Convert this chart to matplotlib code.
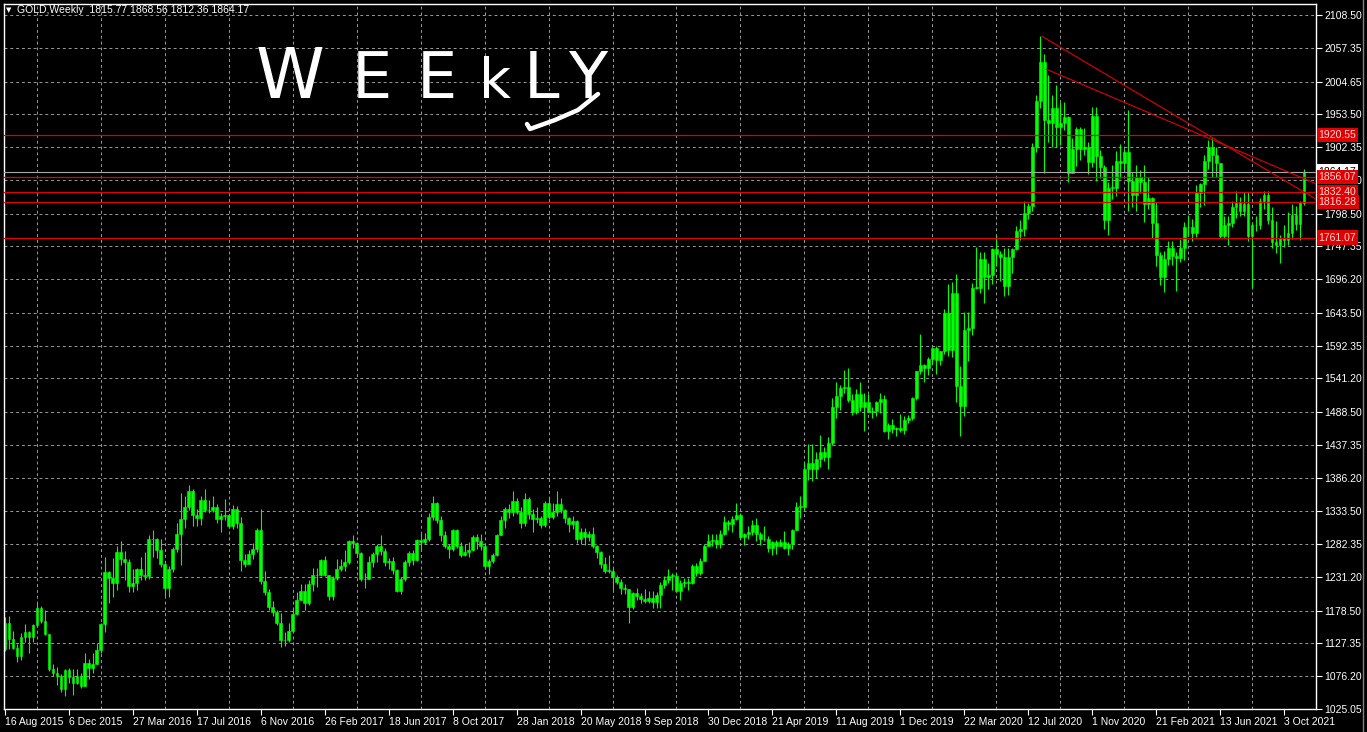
import matplotlib.pyplot as plt
import matplotlib.transforms as mtransforms
from matplotlib.lines import Line2D

plt.rcParams['font.family'] = ['Liberation Sans', 'DejaVu Sans']

# weekly bars: first is the week of 16 Aug 2015, last is the week of 7 Nov 2021
opens = [
    1118, 1160, 1134, 1121, 1108, 1137, 1145, 1137, 1156, 1182, 1163, 1142, 1088, 1081, 1077, 1056, 1086, 1075, 1066, 1076,
    1061, 1097, 1089, 1096, 1117, 1158, 1239, 1230, 1221, 1270, 1259, 1255, 1217, 1221, 1243, 1235, 1233, 1291, 1290, 1273,
    1252, 1214, 1243, 1275, 1298, 1322, 1340, 1366, 1328, 1323, 1351, 1335, 1335, 1341, 1321, 1327, 1328, 1310, 1338, 1316,
    1257, 1252, 1267, 1275, 1304, 1225, 1208, 1184, 1177, 1160, 1133, 1132,
    1147, 1173, 1196, 1210, 1190, 1220, 1234, 1235, 1257, 1234, 1202, 1229, 1244, 1249, 1254, 1288, 1284, 1268, 1228, 1228,
    1254, 1267, 1280, 1271, 1254, 1256, 1242, 1209, 1228, 1255, 1269, 1257, 1289, 1285, 1291, 1325, 1346, 1320, 1297, 1280,
    1275, 1304, 1280, 1266, 1270, 1274, 1294, 1287, 1280, 1248, 1256, 1265, 1297,
    1320, 1338, 1332, 1350, 1333, 1315, 1353, 1330, 1322, 1323, 1313, 1347, 1325, 1332, 1345, 1336, 1323, 1314, 1318, 1291,
    1301, 1294, 1298, 1279, 1270, 1252, 1241, 1241, 1231, 1223, 1214, 1212, 1184, 1206, 1201, 1197, 1194, 1199, 1192, 1203,
    1218, 1227, 1233, 1233, 1209, 1222, 1222, 1222, 1248, 1238, 1256, 1279,
    1287, 1289, 1282, 1298, 1317, 1314, 1322, 1328, 1294, 1298, 1302, 1313, 1298, 1291, 1290, 1276, 1286, 1280, 1285, 1277,
    1283, 1305, 1341, 1341, 1400, 1409, 1399, 1415, 1426, 1419, 1440, 1497, 1513, 1526, 1528, 1507, 1488, 1517, 1497, 1505,
    1489, 1490, 1505, 1509, 1459, 1468, 1462, 1464, 1460, 1476, 1479, 1510,
    1552, 1562, 1557, 1571, 1589, 1570, 1584, 1643, 1585, 1674, 1530, 1498, 1617, 1620, 1683, 1683, 1728, 1700, 1702, 1743,
    1735, 1730, 1685, 1730, 1743, 1771, 1775, 1799, 1810, 1902, 1975, 2035, 1944, 1940, 1964, 1933, 1940, 1950, 1862, 1900,
    1930, 1899, 1902, 1879, 1951, 1889, 1872, 1788, 1839, 1839, 1881, 1877,
    1895, 1850, 1828, 1856, 1848, 1814, 1823, 1784, 1734, 1700, 1727, 1745, 1733, 1729, 1744, 1777, 1777, 1768, 1831, 1844,
    1881, 1903, 1890, 1877, 1764, 1781, 1784, 1808, 1815, 1802, 1814, 1763, 1780, 1781, 1818, 1827, 1788, 1754, 1750, 1761,
    1757, 1768, 1796, 1783, 1815.77,
]
highs = [
    1168, 1170, 1147, 1126, 1143, 1157, 1147, 1158, 1191, 1186, 1180, 1142, 1096, 1090, 1080, 1088, 1089, 1088, 1088, 1082,
    1112, 1103, 1112, 1128, 1160, 1263, 1240, 1261, 1279, 1287, 1272, 1259, 1244, 1245, 1263, 1270, 1297, 1304, 1292, 1290,
    1253, 1248, 1278, 1315, 1362, 1358, 1375, 1369, 1337, 1357, 1368, 1352, 1358, 1345, 1331, 1353, 1330, 1344, 1342, 1325,
    1267, 1273, 1284, 1308, 1338, 1240, 1213, 1194, 1180, 1175, 1145, 1160,
    1182, 1207, 1220, 1220, 1226, 1245, 1245, 1259, 1264, 1235, 1233, 1259, 1260, 1274, 1289, 1296, 1285, 1270, 1237, 1264,
    1270, 1283, 1296, 1277, 1261, 1263, 1244, 1231, 1257, 1271, 1274, 1291, 1300, 1300, 1331, 1358, 1348, 1326, 1303, 1282,
    1306, 1306, 1286, 1283, 1286, 1297, 1299, 1299, 1281, 1260, 1268, 1299, 1326,
    1340, 1345, 1366, 1355, 1341, 1362, 1356, 1337, 1341, 1327, 1349, 1356, 1347, 1365, 1354, 1337, 1325, 1326, 1320, 1307,
    1308, 1303, 1309, 1281, 1272, 1262, 1265, 1245, 1235, 1228, 1220, 1212, 1207, 1214, 1206, 1212, 1210, 1209, 1207, 1223,
    1233, 1243, 1237, 1237, 1226, 1230, 1229, 1251, 1253, 1261, 1283, 1299,
    1298, 1299, 1304, 1326, 1320, 1327, 1346, 1331, 1300, 1311, 1320, 1324, 1301, 1311, 1295, 1287, 1289, 1290, 1303, 1285,
    1306, 1348, 1358, 1411, 1439, 1438, 1427, 1453, 1434, 1449, 1510, 1535, 1531, 1555, 1557, 1517, 1524, 1535, 1519, 1517,
    1497, 1506, 1518, 1515, 1472, 1478, 1466, 1485, 1482, 1484, 1512, 1553,
    1611, 1563, 1574, 1589, 1592, 1584, 1649, 1689, 1692, 1704, 1560, 1645, 1645, 1690, 1747, 1739, 1738, 1722, 1745, 1765,
    1740, 1745, 1745, 1745, 1779, 1789, 1818, 1815, 1909, 1983, 2075, 2048, 2015, 1984, 2000, 1973, 1973, 1951, 1917, 1933,
    1933, 1932, 1911, 1965, 1965, 1898, 1875, 1848, 1875, 1896, 1907, 1900,
    1960, 1864, 1875, 1867, 1875, 1855, 1825, 1816, 1739, 1740, 1755, 1756, 1738, 1759, 1785, 1797, 1790, 1843, 1846, 1890,
    1913, 1916, 1903, 1878, 1795, 1795, 1818, 1834, 1825, 1832, 1832, 1785, 1795, 1823, 1834, 1833, 1809, 1787, 1765, 1781,
    1801, 1814, 1810, 1818, 1868.56,
]
lows = [
    1116, 1118, 1118, 1098, 1102, 1130, 1113, 1129, 1155, 1159, 1140, 1084, 1077, 1062, 1052, 1046, 1066, 1047, 1064, 1058,
    1061, 1072, 1082, 1096, 1112, 1146, 1191, 1200, 1211, 1250, 1226, 1208, 1207, 1211, 1226, 1226, 1228, 1263, 1261, 1246,
    1200, 1200, 1239, 1270, 1250, 1307, 1336, 1310, 1310, 1312, 1333, 1331, 1333, 1316, 1302, 1320, 1307, 1306, 1307, 1241,
    1246, 1251, 1260, 1270, 1220, 1203, 1180, 1171, 1156, 1122, 1124, 1130,
    1146, 1172, 1195, 1180, 1188, 1210, 1216, 1232, 1232, 1195, 1196, 1227, 1240, 1240, 1252, 1276, 1262, 1225, 1214, 1228,
    1247, 1255, 1266, 1248, 1243, 1236, 1207, 1205, 1225, 1249, 1250, 1256, 1271, 1283, 1288, 1320, 1316, 1288, 1277, 1261,
    1272, 1276, 1262, 1264, 1263, 1271, 1275, 1273, 1243, 1236, 1253, 1264, 1297,
    1307, 1323, 1326, 1330, 1307, 1310, 1322, 1302, 1315, 1307, 1309, 1322, 1322, 1326, 1331, 1315, 1302, 1306, 1284, 1282,
    1281, 1288, 1276, 1261, 1245, 1238, 1237, 1211, 1220, 1204, 1205, 1160, 1181, 1195, 1191, 1191, 1191, 1182, 1183, 1183,
    1214, 1221, 1211, 1208, 1196, 1216, 1211, 1220, 1233, 1235, 1256, 1279,
    1279, 1276, 1276, 1296, 1304, 1302, 1320, 1290, 1281, 1290, 1297, 1287, 1281, 1288, 1270, 1266, 1267, 1279, 1275, 1266,
    1275, 1305, 1324, 1336, 1383, 1381, 1386, 1403, 1412, 1400, 1437, 1480, 1492, 1518, 1504, 1484, 1485, 1490, 1459, 1489,
    1480, 1483, 1487, 1457, 1446, 1456, 1451, 1457, 1455, 1471, 1476, 1508,
    1548, 1536, 1547, 1563, 1548, 1562, 1580, 1576, 1575, 1504, 1451, 1482, 1568, 1609, 1680, 1675, 1659, 1681, 1689, 1717,
    1693, 1670, 1671, 1705, 1742, 1757, 1763, 1790, 1803, 1895, 1964, 1862, 1911, 1902, 1902, 1906, 1929, 1848, 1862, 1873,
    1882, 1890, 1860, 1872, 1850, 1854, 1775, 1765, 1822, 1826, 1854, 1866,
    1803, 1808, 1802, 1831, 1785, 1806, 1760, 1717, 1687, 1676, 1718, 1718, 1678, 1723, 1726, 1763, 1756, 1762, 1808, 1812,
    1868, 1855, 1855, 1761, 1761, 1750, 1777, 1791, 1794, 1795, 1755, 1682, 1771, 1775, 1806, 1782, 1745, 1737, 1721, 1746,
    1750, 1759, 1773, 1758, 1812.36,
]
closes = [
    1160, 1134, 1121, 1108, 1137, 1145, 1137, 1156, 1182, 1163, 1142, 1088, 1081, 1077, 1056, 1086, 1075, 1066, 1076, 1061,
    1097, 1089, 1096, 1117, 1158, 1239, 1230, 1221, 1270, 1259, 1255, 1217, 1221, 1243, 1235, 1233, 1291, 1290, 1273, 1252,
    1214, 1243, 1275, 1298, 1322, 1340, 1366, 1328, 1323, 1351, 1335, 1335, 1341, 1321, 1327, 1328, 1310, 1338, 1316, 1257,
    1252, 1267, 1275, 1304, 1225, 1208, 1184, 1177, 1160, 1133, 1132, 1147,
    1173, 1196, 1210, 1190, 1220, 1234, 1235, 1257, 1234, 1202, 1229, 1244, 1249, 1254, 1288, 1284, 1268, 1228, 1228, 1254,
    1267, 1280, 1271, 1254, 1256, 1242, 1209, 1228, 1255, 1269, 1257, 1289, 1285, 1291, 1325, 1346, 1320, 1297, 1280, 1275,
    1304, 1280, 1266, 1270, 1274, 1294, 1287, 1280, 1248, 1256, 1265, 1297, 1320,
    1338, 1332, 1350, 1333, 1315, 1353, 1330, 1322, 1323, 1313, 1347, 1325, 1332, 1345, 1336, 1323, 1314, 1318, 1291, 1301,
    1294, 1298, 1279, 1270, 1252, 1241, 1241, 1231, 1223, 1214, 1212, 1184, 1206, 1201, 1197, 1194, 1199, 1192, 1203, 1218,
    1227, 1233, 1233, 1209, 1222, 1222, 1222, 1248, 1238, 1256, 1279, 1287,
    1289, 1282, 1298, 1317, 1314, 1322, 1328, 1294, 1298, 1302, 1313, 1298, 1291, 1290, 1276, 1286, 1280, 1285, 1277, 1283,
    1305, 1341, 1341, 1400, 1409, 1399, 1415, 1426, 1419, 1440, 1497, 1513, 1526, 1528, 1507, 1488, 1517, 1497, 1505, 1489,
    1490, 1505, 1509, 1459, 1468, 1462, 1464, 1460, 1476, 1479, 1510, 1552,
    1562, 1557, 1571, 1589, 1570, 1584, 1643, 1585, 1674, 1530, 1498, 1617, 1620, 1683, 1683, 1728, 1700, 1702, 1743, 1735,
    1730, 1685, 1730, 1743, 1771, 1775, 1799, 1810, 1902, 1975, 2035, 1944, 1940, 1964, 1933, 1940, 1950, 1862, 1900, 1930,
    1899, 1902, 1879, 1951, 1889, 1872, 1788, 1839, 1839, 1881, 1877, 1895,
    1850, 1828, 1856, 1848, 1814, 1823, 1784, 1734, 1700, 1727, 1745, 1733, 1729, 1744, 1777, 1777, 1768, 1831, 1844, 1881,
    1903, 1890, 1877, 1764, 1781, 1784, 1808, 1815, 1802, 1814, 1763, 1780, 1781, 1818, 1827, 1788, 1754, 1750, 1761, 1757,
    1768, 1796, 1783, 1815.77, 1864.17,
]

date_labels = ["16 Aug 2015", "6 Dec 2015", "27 Mar 2016", "17 Jul 2016", "6 Nov 2016", "26 Feb 2017",
               "18 Jun 2017", "8 Oct 2017", "28 Jan 2018", "20 May 2018", "9 Sep 2018", "30 Dec 2018",
               "21 Apr 2019", "11 Aug 2019", "1 Dec 2019", "22 Mar 2020", "12 Jul 2020", "1 Nov 2020",
               "21 Feb 2021", "13 Jun 2021", "3 Oct 2021"]
price_ticks = [2108.50, 2057.35, 2004.65, 1953.50, 1902.35, 1851.20, 1798.50, 1747.35, 1696.20, 1643.50, 1592.35,
               1541.20, 1488.50, 1437.35, 1386.20, 1333.50, 1282.35, 1231.20, 1178.50, 1127.35, 1076.20, 1025.05]
levels = [1920.55, 1856.07, 1832.40, 1816.28, 1761.07]
last_price = 1864.17
# two trend lines drawn from the 2020 top
trend_a_x, trend_a_y = [259.5, 328.0], [2075.0, 1821.0]
trend_b_x, trend_b_y = [260.5, 328.0], [2024.0, 1845.0]
note = "WEEkLY"

W, H = 1367, 732
fig = plt.figure(figsize=(W / 100, H / 100), dpi=100, facecolor='black')
ax = fig.add_axes([4 / W, (H - 709) / H, (1316 - 4) / W, (709 - 4) / H])
ax.set_facecolor('black')

n = len(closes)
xs = list(range(n))
green = '#00ff00'

ax.vlines(xs, lows, highs, color=green, linewidth=0.8, zorder=2)
bottoms = [min(o, c) for o, c in zip(opens, closes)]
heights = [max(abs(c - o), 0.6) for o, c in zip(opens, closes)]
ax.bar(xs, heights, width=0.72, bottom=bottoms, color=green, edgecolor=green, linewidth=0.4, zorder=2)

for lv in levels:
    ax.axhline(lv, color='#e00000', linewidth=0.9, zorder=3)
ax.axhline(last_price, color='#a8a8a8', linewidth=0.8, zorder=3)
ax.plot(trend_a_x, trend_a_y, color='#e00000', linewidth=0.8, zorder=3)
ax.plot(trend_b_x, trend_b_y, color='#e00000', linewidth=0.8, zorder=3)

ax.set_xlim(-0.25, 327.75)
ax.set_ylim(1025.05, 1025.05 + 705 * 1.5612)

# axes and grid
ax.yaxis.tick_right()
ax.set_yticks(price_ticks, [f"{p:.2f}" for p in price_ticks])
ax.set_xticks([16 * i for i in range(len(date_labels))], date_labels, ha='left')
ax.set_xticks([8 * i for i in range(42)], minor=True)
ax.tick_params(axis='y', which='major', direction='out', length=4, width=0.8, color='white',
               labelcolor='white', labelsize=7.5, pad=2)
ax.tick_params(axis='x', which='major', direction='out', length=4, width=0.8, color='white',
               labelcolor='white', labelsize=7.5, pad=2)
ax.tick_params(axis='x', which='minor', length=0)
ax.set_axisbelow(True)
ax.grid(True, which='major', axis='y', color='#9a9a9a', linewidth=0.7, linestyle=(0, (3, 3)))
ax.grid(True, which='minor', axis='x', color='#9a9a9a', linewidth=0.7, linestyle=(0, (3, 3)))
for s in ax.spines.values():
    s.set_color('white')
    s.set_linewidth(1)

# price labels on the right axis
trans = mtransforms.blended_transform_factory(ax.transAxes, ax.transData)
ax.text(1.002, last_price, f"{last_price:.2f}", transform=trans, ha='left', va='center', fontsize=7.5,
        color='black', clip_on=False, zorder=9,
        bbox=dict(boxstyle='square,pad=0.2', fc='white', ec='none'))
for lv in levels:
    ax.text(1.002, lv, f"{lv:.2f}", transform=trans, ha='left', va='center', fontsize=7.5,
            color='#ffd8d8', clip_on=False, zorder=10,
            bbox=dict(boxstyle='square,pad=0.2', fc='#e00000', ec='none'))

# header
fig.text(6 / W, 1 - 10 / H, "\u25bc", color='white', fontsize=5, va='center', family='DejaVu Sans')
fig.text(17 / W, 1 - 10 / H, "GOLD,Weekly  1815.77 1868.56 1812.36 1864.17", color='white',
         fontsize=7.5, va='center')

# hand written note, letters spread out like the drawing
letter_px = [290, 372, 437, 495, 542, 588]
letter_sz = [50, 46, 46, 40, 46, 46]
for ch, px, sz in zip(note, letter_px, letter_sz):
    fig.text(px / W, 1 - 98 / H, ch, color='white', fontsize=sz, ha='center', va='baseline',
             family='DejaVu Sans', fontweight='normal')
fig.add_artist(Line2D([598 / W, 578 / W, 555 / W, 530 / W, 527 / W],
                      [1 - 94 / H, 1 - 110 / H, 1 - 120 / H, 1 - 129 / H, 1 - 124 / H],
                      color='white', linewidth=3.2, solid_capstyle='round', solid_joinstyle='round'))
fig.add_artist(Line2D([1363 / W, 1363 / W], [0, 1], color='#808080', linewidth=1))

fig.savefig('out.png', dpi=100, facecolor='black')
